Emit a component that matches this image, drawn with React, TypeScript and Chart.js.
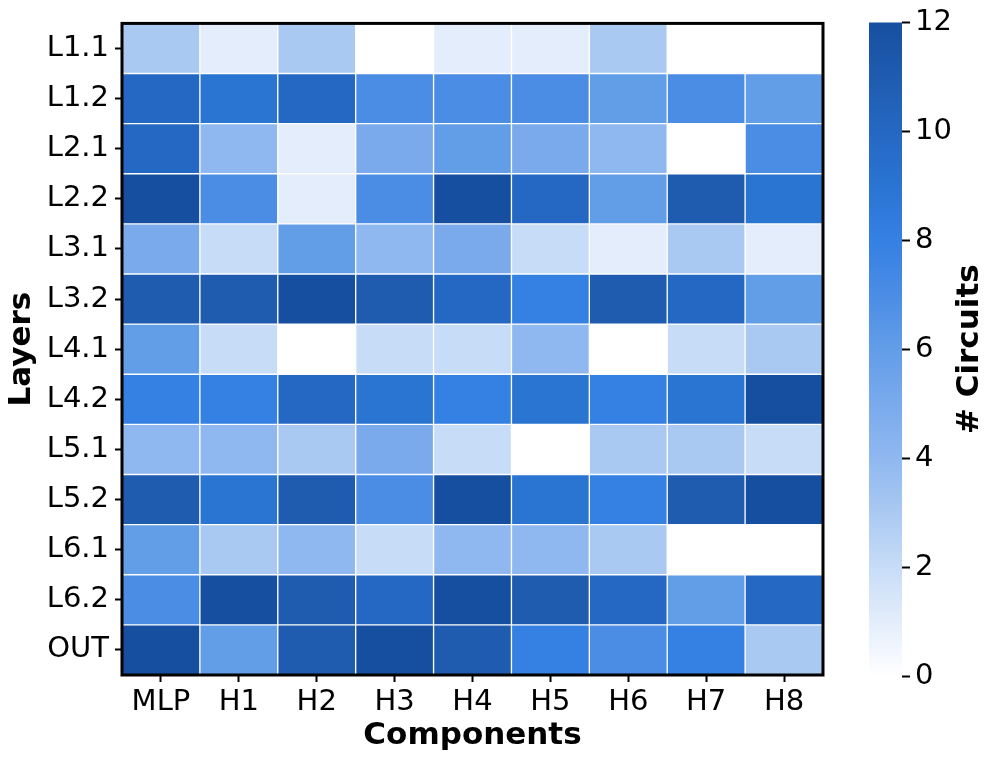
import React, { useEffect, useRef } from "react";
import { Chart, registerables } from "chart.js";

Chart.register(...registerables);

// ---------- data ----------
const layers = ["L1.1", "L1.2", "L2.1", "L2.2", "L3.1", "L3.2", "L4.1", "L4.2", "L5.1", "L5.2", "L6.1", "L6.2", "OUT"];
const components = ["MLP", "H1", "H2", "H3", "H4", "H5", "H6", "H7", "H8"];

const rowL1_1 = [3, 1, 3, 0, 1, 1, 3, 0, 0];
const rowL1_2 = [10, 9, 10, 7, 7, 7, 6, 7, 6];
const rowL2_1 = [10, 4, 1, 5, 6, 5, 4, 0, 7];
const rowL2_2 = [12, 7, 1, 7, 12, 10, 6, 11, 9];
const rowL3_1 = [5, 2, 6, 4, 5, 2, 1, 3, 1];
const rowL3_2 = [11, 11, 12, 11, 10, 8, 11, 10, 6];
const rowL4_1 = [6, 2, 0, 2, 2, 4, 0, 2, 3];
const rowL4_2 = [8, 8, 10, 9, 8, 9, 8, 9, 12];
const rowL5_1 = [4, 4, 3, 5, 2, 0, 3, 3, 2];
const rowL5_2 = [11, 9, 11, 7, 12, 9, 8, 11, 12];
const rowL6_1 = [6, 3, 4, 2, 4, 4, 3, 0, 0];
const rowL6_2 = [7, 12, 11, 10, 12, 11, 10, 6, 10];
const rowOUT = [12, 6, 11, 12, 11, 8, 7, 8, 3];

const rows = [rowL1_1, rowL1_2, rowL2_1, rowL2_2, rowL3_1, rowL3_2, rowL4_1, rowL4_2, rowL5_1, rowL5_2, rowL6_1, rowL6_2, rowOUT];

const colorbarMin = 0;
const colorbarMax = 12;
const colorbarStep = 2;

// colormap: value 0..12
const palette = [
  "#ffffff", "#e3edfb", "#c7dcf7", "#aac9f2", "#8fb8f0", "#7aaaec", "#629de8",
  "#4b8de5", "#3580e3", "#2a74d2", "#2568c3", "#1f5caf", "#164fa0",
];

const FONT = "'DejaVu Sans', sans-serif";
const TICK_SIZE = 29;
const TITLE_SIZE = 31;

const framePlugin = {
  id: "frame",
  afterDatasetsDraw(chart: any) {
    const { ctx, chartArea } = chart;
    ctx.save();
    ctx.strokeStyle = "#000";
    ctx.lineWidth = 3;
    ctx.strokeRect(chartArea.left, chartArea.top, chartArea.right - chartArea.left, chartArea.bottom - chartArea.top);
    ctx.restore();
  },
};

const cbarTitlePlugin = {
  id: "cbarTitle",
  afterDraw(chart: any) {
    const { ctx, chartArea } = chart;
    ctx.save();
    ctx.translate(110, (chartArea.top + chartArea.bottom) / 2);
    ctx.rotate(-Math.PI / 2);
    ctx.font = `bold ${TITLE_SIZE}px ${FONT}`;
    ctx.fillStyle = "#000";
    ctx.textAlign = "center";
    ctx.textBaseline = "middle";
    ctx.fillText("# Circuits", 0, 0);
    ctx.restore();
  },
};

export default function App() {
  const mainRef = useRef<HTMLCanvasElement>(null);
  const cbarRef = useRef<HTMLCanvasElement>(null);

  useEffect(() => {
    const datasets = rows.map((vals, i) => ({
      label: layers[i],
      data: vals.map(() => [i, i + 1]),
      backgroundColor: vals.map((v) => palette[v]),
      borderColor: "#ffffff",
      borderWidth: 1,
      borderSkipped: false,
      grouped: false,
      barPercentage: 1,
      categoryPercentage: 1,
    }));

    const main = new Chart(mainRef.current!, {
      type: "bar",
      data: { labels: components, datasets: datasets as any },
      plugins: [framePlugin],
      options: {
        animation: false,
        responsive: false,
        maintainAspectRatio: false,
        layout: { padding: { top: 22, right: 37, left: 0, bottom: 0 } },
        plugins: { legend: { display: false }, tooltip: { enabled: false } },
        scales: {
          x: {
            type: "category",
            offset: true,
            border: { display: false },
            grid: { display: true, drawOnChartArea: false, drawTicks: true, tickLength: 7, tickColor: "#000", tickWidth: 2, offset: false },
            ticks: { color: "#000", font: { family: FONT, size: TICK_SIZE }, padding: 3, maxRotation: 0, autoSkip: false },
            title: { display: true, text: "Components", color: "#000", font: { family: FONT, size: TITLE_SIZE, weight: "bold" }, padding: { top: 0, bottom: 8 } },
            afterFit(scale: any) { scale.height = 88; },
          },
          y: {
            type: "linear",
            min: 0,
            max: layers.length,
            reverse: true,
            border: { display: false },
            grid: { display: true, drawOnChartArea: false, drawTicks: true, tickLength: 7, tickColor: "#000", tickWidth: 2 },
            afterBuildTicks(scale: any) {
              scale.ticks = layers.map((_, i) => ({ value: i + 0.5 }));
            },
            ticks: {
              color: "#000",
              font: { family: FONT, size: TICK_SIZE },
              padding: 6,
              autoSkip: false,
              callback: (_v: any, idx: number) => layers[idx],
            },
            title: { display: true, text: "Layers", color: "#000", font: { family: FONT, size: TITLE_SIZE, weight: "bold" }, padding: { top: 3, bottom: 0 } },
            afterFit(scale: any) { scale.width = 122; },
          },
        },
      } as any,
    });

    const cbar = new Chart(cbarRef.current!, {
      type: "bar",
      data: {
        labels: [""],
        datasets: [
          {
            data: [[colorbarMin, colorbarMax]] as any,
            backgroundColor: (c: any) => {
              const area = c.chart.chartArea;
              if (!area) return palette[palette.length - 1];
              const g = c.chart.ctx.createLinearGradient(0, area.bottom, 0, area.top);
              palette.forEach((col, v) => g.addColorStop(v / (palette.length - 1), col));
              return g;
            },
            borderWidth: 0,
            barPercentage: 1,
            categoryPercentage: 1,
          },
        ],
      },
      plugins: [cbarTitlePlugin],
      options: {
        animation: false,
        responsive: false,
        maintainAspectRatio: false,
        layout: { padding: { top: 21, left: 9, right: 0, bottom: 87 } },
        plugins: { legend: { display: false }, tooltip: { enabled: false } },
        scales: {
          x: { display: false },
          y: {
            type: "linear",
            position: "right",
            min: colorbarMin,
            max: colorbarMax,
            border: { display: false },
            grid: { display: true, drawOnChartArea: false, drawTicks: true, tickLength: 8, tickColor: "#000", tickWidth: 2 },
            ticks: { stepSize: colorbarStep, color: "#000", font: { family: FONT, size: TICK_SIZE }, padding: 5 },
            afterFit(scale: any) { scale.width = 95; },
          },
        },
      } as any,
    });

    return () => {
      main.destroy();
      cbar.destroy();
    };
  }, []);

  return (
    <div style={{ position: "fixed", left: 0, top: 0, width: 997, height: 763, background: "#fff" }}>
      <canvas ref={mainRef} width={860} height={763} style={{ position: "absolute", left: 0, top: 0, width: 860, height: 763 }} />
      <canvas ref={cbarRef} width={137} height={763} style={{ position: "absolute", left: 860, top: 0, width: 137, height: 763 }} />
    </div>
  );
}
